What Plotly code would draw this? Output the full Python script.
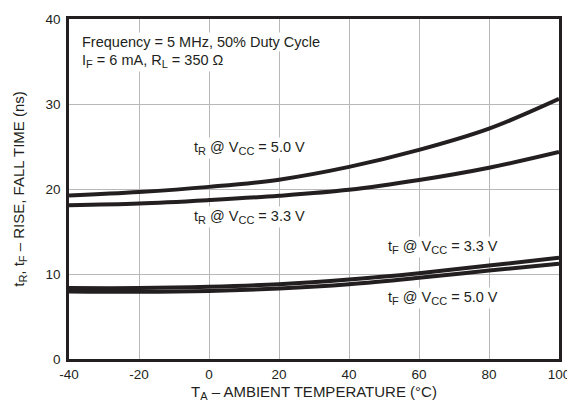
import plotly.graph_objects as go

temps = [-40, -20, 0, 20, 40, 60, 80, 100]
tr_5v0 = [19.25, 19.65, 20.25, 21.1, 22.6, 24.6, 27.1, 30.6]
tr_3v3 = [18.1, 18.3, 18.7, 19.2, 19.9, 21.05, 22.5, 24.35]
tf_3v3 = [8.35, 8.35, 8.5, 8.8, 9.35, 10.1, 11.0, 11.9]
tf_5v0 = [7.95, 7.9, 8.0, 8.3, 8.8, 9.55, 10.4, 11.2]

x_ticks = [-40, -20, 0, 20, 40, 60, 80, 100]
x_ticktext = ["-40", "-20", "0", "20", "40", "60", "80", "100"]
y_ticks = [0, 10, 20, 30, 40]
y_ticktext = ["0", "10", "20", "30", "40"]

INK = "#231f20"
FONT = "Liberation Sans, Arial, sans-serif"

def sub(s, size=11):
    return "<sub><span style='font-size:%dpx'>%s</span></sub>" % (size, s)

fig = go.Figure()
for ys in [tr_5v0, tr_3v3, tf_3v3, tf_5v0]:
    fig.add_trace(go.Scatter(
        x=temps, y=ys, mode="lines",
        line=dict(color=INK, width=4, shape="spline", smoothing=1.0),
        showlegend=False, hoverinfo="skip"))

def label(text, x, y, anchor="center"):
    fig.add_annotation(
        x=x, y=y, xref="x", yref="y", text=text, showarrow=False,
        xanchor=anchor, yanchor="middle",
        font=dict(family=FONT, size=14.5, color=INK),
        bgcolor="white", borderpad=1)

label("Frequency = 5 MHz, 50% Duty Cycle", -36.8, 37.3, anchor="left")
label("I" + sub("F") + " = 6 mA, R" + sub("L") + " = 350 Ω", -36.8, 35.1, anchor="left")
label("t" + sub("R") + " @ V" + sub("CC") + " = 5.0 V", 11.7, 24.8)
label("t" + sub("R") + " @ V" + sub("CC") + " = 3.3 V", 11.7, 16.7)
label("t" + sub("F") + " @ V" + sub("CC") + " = 3.3 V", 66.9, 13.2)
label("t" + sub("F") + " @ V" + sub("CC") + " = 5.0 V", 66.9, 7.2)

fig.update_layout(
    width=567, height=403,
    margin=dict(l=61, r=16, t=11, b=52),
    paper_bgcolor="white", plot_bgcolor="white",
    font=dict(family=FONT, size=14, color=INK),
    xaxis=dict(
        range=[-40, 100], tickvals=x_ticks, ticktext=x_ticktext,
        showgrid=True, gridcolor="#b8b8b8", gridwidth=1,
        showline=True, linecolor=INK, linewidth=2.5, mirror=True,
        ticks="", zeroline=False, tickfont=dict(size=13.5),
        ticklabelstandoff=1, automargin=False,
        title=dict(text="T" + sub("A", 11) + " – AMBIENT TEMPERATURE (°C)",
                   font=dict(size=15), standoff=6),
    ),
    yaxis=dict(
        range=[0, 40], tickvals=y_ticks, ticktext=y_ticktext,
        showgrid=True, gridcolor="#b8b8b8", gridwidth=1,
        showline=True, linecolor=INK, linewidth=2.5, mirror=True,
        ticks="", zeroline=False, tickfont=dict(size=13.5),
        ticklabelstandoff=3, automargin=False,
        title=dict(text="t" + sub("R", 11) + ", t" + sub("F", 11) + " – RISE, FALL TIME (ns)",
                   font=dict(size=15), standoff=18),
    ),
)

fig.write_html("out.html")
